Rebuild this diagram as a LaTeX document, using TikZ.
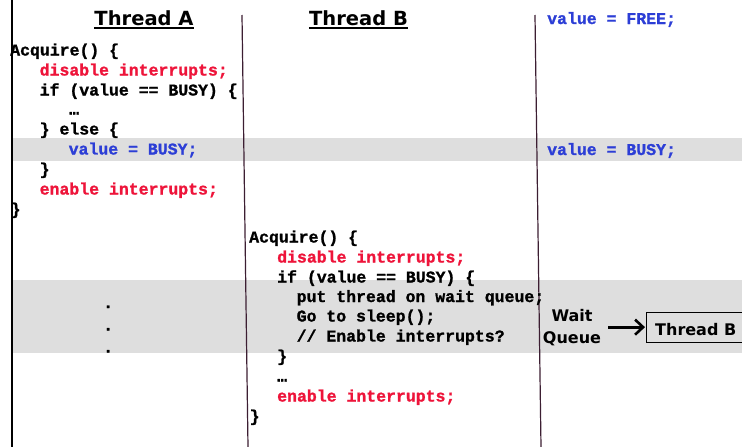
\documentclass[tikz,border=0pt]{standalone}
\usepackage{fontspec}
\newfontfamily\codefont[BoldFeatures={FakeBold=1.2}]{Liberation Mono}
\newfontfamily\headfont{DejaVu Sans}
\usetikzlibrary{arrows.meta}
\definecolor{codered}{RGB}{238,20,58}
\definecolor{codeblue}{RGB}{44,62,214}
\definecolor{bandgrey}{RGB}{222,222,222}
\definecolor{linepurple}{RGB}{60,30,50}
\tikzset{
  code/.style={inner sep=0pt, anchor=base west, font=\codefont\bfseries\fontsize{16.5}{19.8}\selectfont, text=black},
  redcode/.style={code, text=codered},
  bluecode/.style={code, text=codeblue},
  header/.style={inner sep=0pt, anchor=base, text depth=0pt, font=\headfont\bfseries\fontsize{19.5}{22}\selectfont},
  label/.style={inner sep=0pt, align=center, font=\headfont\bfseries\fontsize{16}{22}\selectfont},
  band/.style={fill=bandgrey, draw=none},
  divider/.style={draw=linepurple, line width=1.2pt},
  wqarrow/.style={draw=black, line width=3pt, -{Straight Barb[length=8pt,width=15pt,line width=2.6pt]}}
}
\begin{document}
\begin{tikzpicture}[x=1pt,y=-1pt]
\clip (0,0) rectangle (742,447);
\useasboundingbox (0,0) rectangle (742,447);
\fill[white] (0,0) rectangle (742,447);
% grey bands
\path[band] (13,138) rectangle (742,161);
\path[band] (13,280) rectangle (742,353);
% left border
\draw[line width=2.4pt] (12,0) -- (12,447);
% dividers
\coordinate (d1t) at (242,15);
\coordinate (d1b) at (248,447);
\coordinate (d2t) at (535,15);
\coordinate (d2b) at (541,447);
\draw[divider] (d1t) -- (d1b);
\draw[divider] (d2t) -- (d2b);
% headers
\node[header] (hA) at (144,25.5) {Thread A};
\node[header] (hB) at (358.5,25.5) {Thread B};
\draw[line width=1.6pt] ([yshift=-2.2pt]hA.south west) -- ([yshift=-2.2pt]hA.south east);
\draw[line width=1.6pt] ([yshift=-2.2pt]hB.south west) -- ([yshift=-2.2pt]hB.south east);
% Thread A code
\node[code] (a1) at (10,55.5) {Acquire() \{};
\node[redcode] (a2) at (39.5,75.5) {disable interrupts;};
\node[code] (a3) at (39.5,95.5) {if (value == BUSY) \{};
\node[code] (a4) at (69,114.5) {…};
\node[code] (a5) at (39.5,134.5) {\} else \{};
\node[bluecode] (a6) at (68.5,154.5) {value = BUSY;};
\node[code] (a7) at (39.5,174.5) {\}};
\node[redcode] (a8) at (39.5,194.5) {enable interrupts;};
\node[code] (a9) at (10.5,214.5) {\}};
% dots
\node[code] (dot1) at (103,308) {.};
\node[code] (dot2) at (103,330.5) {.};
\node[code] (dot3) at (103,352.5) {.};
% Thread B code
\node[code] (b1) at (249,242.5) {Acquire() \{};
\node[redcode] (b2) at (277,262.5) {disable interrupts;};
\node[code] (b3) at (277,282.5) {if (value == BUSY) \{};
\node[code] (b4) at (296.5,302) {put thread on wait queue;};
\node[code] (b5) at (296.5,321.5) {Go to sleep();};
\node[code] (b6) at (296.5,341.5) {// Enable interrupts?};
\node[code] (b7) at (277,361.5) {\}};
\node[code] (b8) at (277,381.5) {…};
\node[redcode] (b9) at (277,401.5) {enable interrupts;};
\node[code] (b10) at (249.5,421.5) {\}};
% value column
\node[bluecode] (v1) at (547,24) {value = FREE;};
\node[bluecode] (v2) at (547,155) {value = BUSY;};
% wait queue
\node[label] (wq) at (572,327.5) {Wait\\Queue};
\node[draw=black, line width=0.8pt, anchor=north west, minimum height=29.5pt, minimum width=120pt, inner sep=0pt] (tb) at (646,312) {};
\node[inner sep=0pt, anchor=base west, font=\headfont\bfseries\fontsize{16}{20}\selectfont] (tbt) at (655,335) {Thread B};
\draw[wqarrow] ([xshift=7pt]wq.east |- tb.west) -- ([xshift=-1pt]tb.west);
\end{tikzpicture}
\end{document}
